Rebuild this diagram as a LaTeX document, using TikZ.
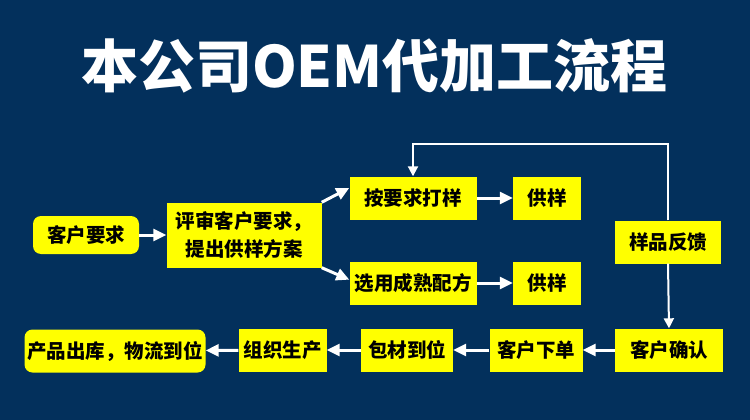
\documentclass[tikz,border=0pt]{standalone}
\usepackage{fontspec}
\setmainfont{Noto Sans CJK SC}
\usepackage{xcolor}
\usetikzlibrary{arrows.meta,positioning}
\definecolor{navy}{RGB}{3,48,92}
\definecolor{boxyellow}{RGB}{255,255,0}

\begin{document}
\begin{tikzpicture}[x=1pt, y=-1pt,
		box/.style={rectangle, fill=boxyellow, text=black, font=\fontsize{19.5}{28}\selectfont\bfseries, minimum height=43pt, inner sep=0pt, align=center},
		endbox/.style={box, rounded corners=8pt},
		arrow/.style={-{Triangle[length=13pt,width=12pt]}, draw=white, line width=3pt},
		backline/.style={-{Triangle[length=10pt,width=10pt]}, draw=white, line width=2pt}]

		\fill [navy] (0,0) rectangle (750,420);
		\node [text=white, font=\fontsize{57}{60}\selectfont\bfseries] (title) at (374.5,66) {本公司OEM代加工流程};

		\node [endbox, minimum width=106pt, minimum height=38pt] (request) at (86,235) {客户要求};
		\node [box, minimum width=155pt, minimum height=65pt] (review) at (244,235) {评审客户要求，\\提出供样方案};
		\node [box, minimum width=127pt] (sample) at (413,198) {按要求打样};
		\node [box, minimum width=68pt] (supplyA) at (547,198) {供样};
		\node [box, minimum width=127pt] (recipe) at (413,283) {选用成熟配方};
		\node [box, minimum width=68pt] (supplyB) at (547,283) {供样};
		\node [box, minimum width=106pt] (feedback) at (668,242) {样品反馈};

		\node [box, minimum width=108pt] (confirm) at (669,350) {客户确认};
		\node [box, minimum width=93pt] (order) at (536,350) {客户下单};
		\node [box, minimum width=92pt] (packing) at (407,350) {包材到位};
		\node [box, minimum width=88pt] (produce) at (282.5,350) {组织生产};
		\node [endbox, minimum width=181pt] (ship) at (115,351) {产品出库，物流到位};

		\draw [arrow] (request) -- (review);
		\draw [arrow] (review.north east) -- (sample.171);
		\draw [arrow] (review.south east) -- (recipe.177);
		\draw [arrow] (sample) -- (supplyA);
		\draw [arrow] (recipe) -- (supplyB);
		\draw [backline] (feedback.north) |- ([yshift=32pt]sample.north) -- (sample.north);
		\draw [backline] (feedback.south) -- (confirm.north);

		\draw [arrow] (confirm) -- (order);
		\draw [arrow] (order) -- (packing);
		\draw [arrow] (packing) -- (produce);
		\draw [arrow] (produce) -- (ship);

	\end{tikzpicture}
\end{document}
